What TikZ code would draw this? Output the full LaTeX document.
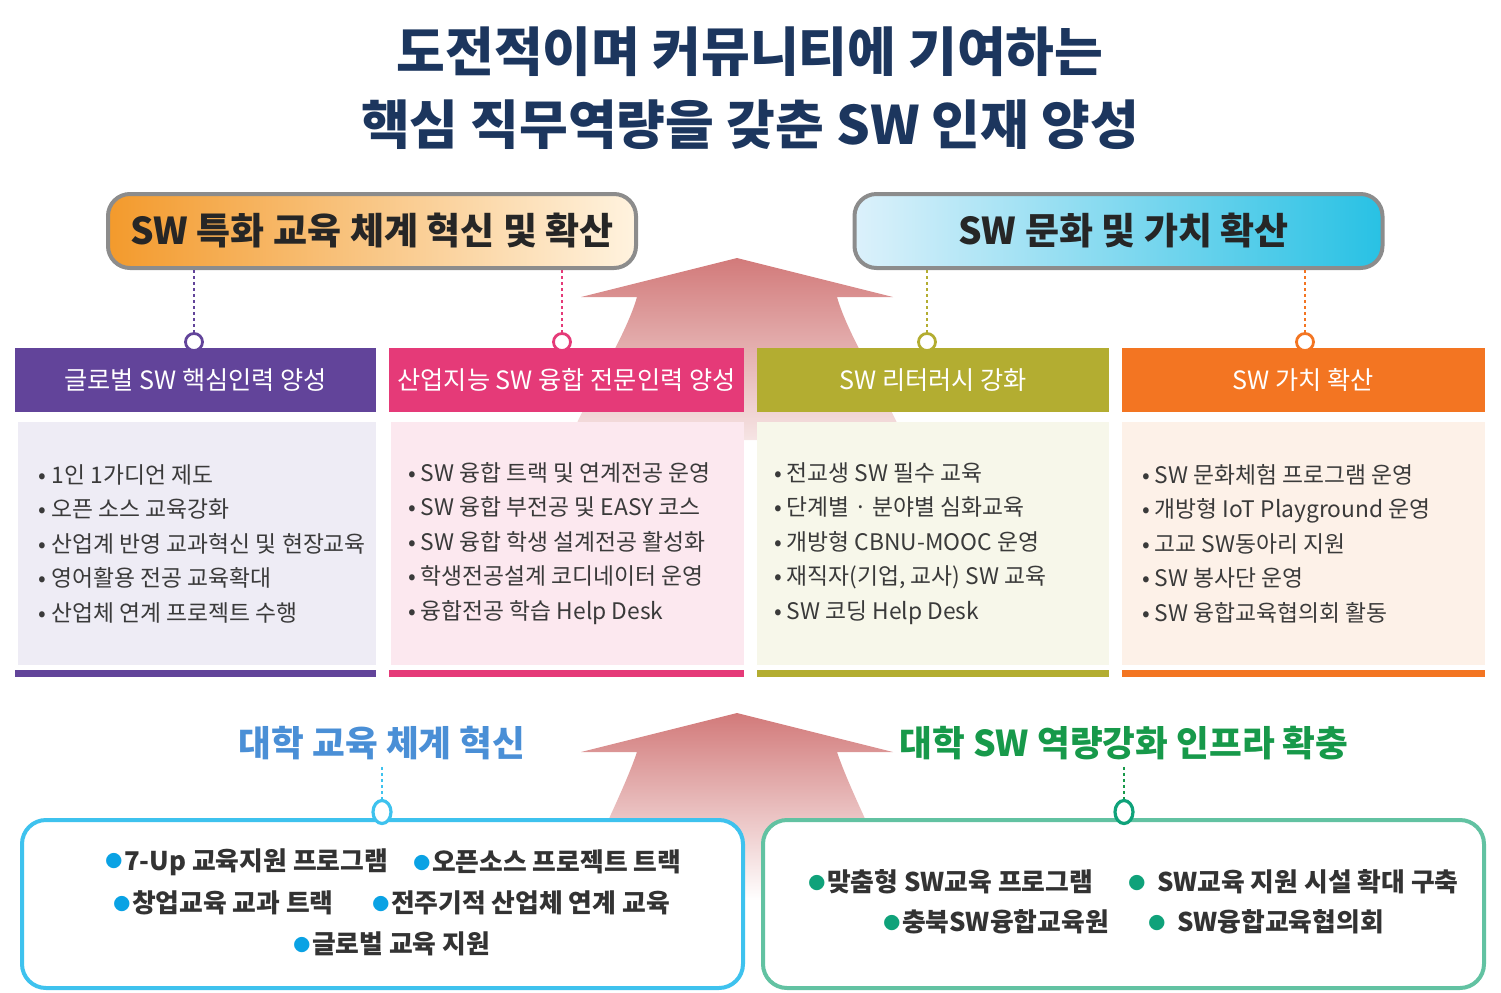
\documentclass[tikz,border=0pt]{standalone}
\usepackage{fontspec}
\setmainfont{Noto Sans CJK KR}
\usetikzlibrary{positioning,shapes.geometric}
\definecolor{ttlnavy}{HTML}{1C365E}
\definecolor{bangray}{HTML}{8C8C8C}
\definecolor{banorange}{HTML}{F39A2C}
\definecolor{bancream}{HTML}{FFF3DF}
\definecolor{banpale}{HTML}{DCF1FB}
\definecolor{bancyan}{HTML}{28C1E4}
\definecolor{hdpurple}{HTML}{62449A}
\definecolor{hdpink}{HTML}{E53A78}
\definecolor{hdolive}{HTML}{B3AD31}
\definecolor{hdorange}{HTML}{F37522}
\definecolor{bgpurple}{HTML}{EEECF5}
\definecolor{bgpink}{HTML}{FCE8EF}
\definecolor{bgolive}{HTML}{F7F7EA}
\definecolor{bgorange}{HTML}{FDF1E8}
\definecolor{arrred}{HTML}{D27A7A}
\definecolor{edublue}{HTML}{4A8FD6}
\definecolor{infragreen}{HTML}{17994A}
\definecolor{boxblue}{HTML}{3EC2EE}
\definecolor{boxteal}{HTML}{62C2A2}
\definecolor{dotblue}{HTML}{0AA2E4}
\definecolor{dotgreen}{HTML}{0FA27A}
\definecolor{txtgray}{HTML}{3A3A3A}
\newcommand{\bdot}[1]{\textcolor{#1}{\fontsize{8.5}{8.5}\selectfont\raisebox{1.2pt}{●}}\kern0.8pt}

\begin{document}
\begin{tikzpicture}[x=0.5pt, y=-0.5pt,
    ttl/.style={font=\fontsize{26.5}{30}\selectfont\bfseries, text=ttlnavy, inner sep=0},
    ban/.style={draw=bangray, line width=2pt, rounded corners=11pt, minimum width=264pt, minimum height=37pt, font=\fontsize{18.5}{22}\selectfont\bfseries, text=black!85},
    hd/.style={minimum height=32pt, inner sep=0, font=\fontsize{12.6}{15}\selectfont, text=white},
    cbox/.style={minimum height=121.5pt, inner sep=0},
    lst/.style={align=left, inner sep=0, font=\fontsize{11.4}{17.25}\selectfont, text=txtgray},
    pin/.style={circle, draw, fill=white, line width=1.4pt, minimum size=8.5pt, inner sep=0},
    opin/.style={ellipse, draw, fill=white, line width=1.6pt, minimum width=9pt, minimum height=11.5pt, inner sep=0},
    dots/.style={line width=1.2pt, dash pattern=on 1.5pt off 1.5pt},
    lab/.style={font=\fontsize{17.8}{21}\selectfont\bfseries},
    ibox/.style={draw, fill=white, line width=2pt, rounded corners=12pt, minimum width=360.5pt, minimum height=84pt},
    itm/.style={anchor=west, inner sep=0, font=\fontsize{12.9}{15}\selectfont\bfseries, text=black!80}]
  \useasboundingbox (0,0) rectangle (1501,992);

  % title
  \node[ttl] (t1) at (750,52) {도전적이며 커뮤니티에 기여하는};
  \node[ttl] (t2) at (750,125) {핵심 직무역량을 갖춘 SW 인재 양성};

  % big arrows
  \shade[top color=arrred, bottom color=arrred!20] (737,258) -- (893,297) -- (837,297)
    .. controls (848,335) and (878,380) .. (905,440) -- (569,440)
    .. controls (596,380) and (626,335) .. (637,297) -- (581,297) -- cycle;
  \shade[top color=arrred, bottom color=white] (737,713) -- (893,752) -- (837,752)
    .. controls (850,790) and (872,830) .. (900,900) -- (574,900)
    .. controls (602,830) and (624,790) .. (637,752) -- (581,752) -- cycle;

  % banners
  \node[ban, left color=banorange, right color=bancream] (ban1) at (372,231) {SW 특화 교육 체계 혁신 및 확산};
  \node[ban, left color=banpale, right color=bancyan] (ban2) at (1118.5,231) {\hspace{5pt}SW 문화 및 가치 확산};

  % headers
  \node[hd, fill=hdpurple, minimum width=180.5pt] (h1) at (195.5,380) {글로벌 SW 핵심인력 양성};
  \node[hd, fill=hdpink, minimum width=177.5pt] (h2) at (566.5,380) {산업지능 SW 융합 전문인력 양성};
  \node[hd, fill=hdolive, minimum width=176pt] (h3) at (933,380) {SW 리터러시 강화};
  \node[hd, fill=hdorange, minimum width=181.5pt] (h4) at (1303.5,380) {SW 가치 확산};

  \node[pin, draw=hdpurple] (p1) at (194,342) {};
  \node[pin, draw=hdpink] (p2) at (562,342) {};
  \node[pin, draw=hdolive] (p3) at (927,342) {};
  \node[pin, draw=hdorange] (p4) at (1305,342) {};
  \draw[dots, draw=hdpurple] (p1 |- ban1.south) -- (p1.north);
  \draw[dots, draw=hdpink] (p2 |- ban1.south) -- (p2.north);
  \draw[dots, draw=hdolive] (p3 |- ban2.south) -- (p3.north);
  \draw[dots, draw=hdorange] (p4 |- ban2.south) -- (p4.north);

  % content boxes
  \node[cbox, fill=bgpurple, minimum width=179pt] (b1) at (197,543.5) {};
  \node[cbox, fill=bgpink, minimum width=176.5pt] (b2) at (567.5,543.5) {};
  \node[cbox, fill=bgolive, minimum width=176pt] (b3) at (933,543.5) {};
  \node[cbox, fill=bgorange, minimum width=181.5pt] (b4) at (1303.5,543.5) {};
  \node[lst, right=10.5pt of b1.west] (l1) {• 1인 1가디언 제도\\• 오픈 소스 교육강화\\• 산업계 반영 교과혁신 및 현장교육\\• 영어활용 전공 교육확대\\• 산업체 연계 프로젝트 수행};
  \node[lst, right=8.5pt of b2.west] (l2) {• SW 융합 트랙 및 연계전공 운영\\• SW 융합 부전공 및 EASY 코스\\• SW 융합 학생 설계전공 활성화\\• 학생전공설계 코디네이터 운영\\• 융합전공 학습 Help Desk};
  \node[lst, right=8.5pt of b3.west] (l3) {• 전교생 SW 필수 교육\\• 단계별 · 분야별 심화교육\\• 개방형 CBNU-MOOC 운영\\• 재직자(기업, 교사) SW 교육\\• SW 코딩 Help Desk};
  \node[lst, right=10pt of b4.west] (l4) {• SW 문화체험 프로그램 운영\\• 개방형 IoT Playground 운영\\• 고교 SW동아리 지원\\• SW 봉사단 운영\\• SW 융합교육협의회 활동};
  \fill[hdpurple] (15,670) rectangle (376,677);
  \fill[hdpink] (389,670) rectangle (744,677);
  \fill[hdolive] (757,670) rectangle (1109,677);
  \fill[hdorange] (1122,670) rectangle (1485,677);

  % bottom
  \node[lab, text=edublue] (lab1) at (382,743) {대학 교육 체계 혁신};
  \node[lab, text=infragreen] (lab2) at (1124,743) {대학 SW 역량강화 인프라 확충};
  \node[ibox, draw=boxblue] (ib1) at (382.5,904) {};
  \node[ibox, draw=boxteal] (ib2) at (1123.5,904) {};
  \node[opin, draw=boxblue] (q1) at (382,812) {};
  \node[opin, draw=dotgreen] (q2) at (1124,812) {};
  \draw[dots, draw=boxblue] (q1 |- lab1.south) -- (q1.north);
  \draw[dots, draw=infragreen] (q2 |- lab2.south) -- (q2.north);

  \node[itm] (e1) at (105,862) {\bdot{dotblue}7-Up 교육지원 프로그램};
  \node[itm] (e2) at (413,862) {\bdot{dotblue}오픈소스 프로젝트 트랙};
  \node[itm] (e3) at (113,903) {\bdot{dotblue}창업교육 교과 트랙};
  \node[itm] (e4) at (372,903) {\bdot{dotblue}전주기적 산업체 연계 교육};
  \node[itm] (e5) at (293,944) {\bdot{dotblue}글로벌 교육 지원};
  \node[itm] (g1) at (808,882) {\bdot{dotgreen}맞춤형 SW교육 프로그램};
  \node[itm] (g2) at (1128,882) {\bdot{dotgreen}\hspace{5pt}SW교육 지원 시설 확대 구축};
  \node[itm] (g3) at (883,922) {\bdot{dotgreen}충북SW융합교육원};
  \node[itm] (g4) at (1148,922) {\bdot{dotgreen}\hspace{5pt}SW융합교육협의회};
\end{tikzpicture}
\end{document}
